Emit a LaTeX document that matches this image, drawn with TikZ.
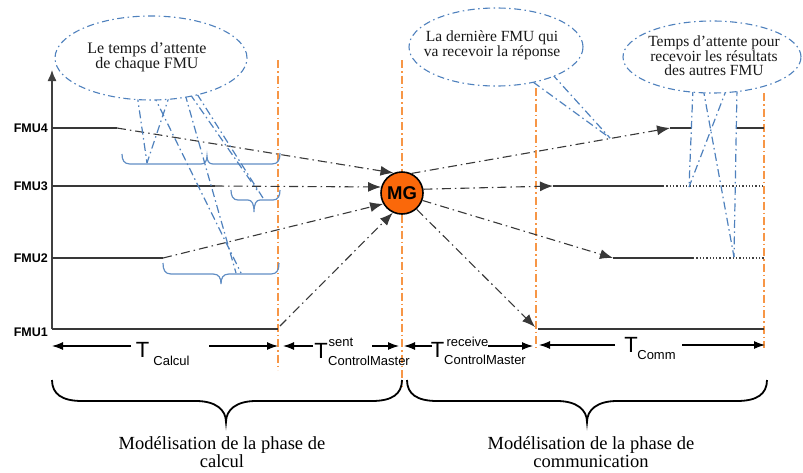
\documentclass[tikz,border=0pt]{standalone}
\usepackage{fontspec}
\setmainfont{Liberation Serif}
\setsansfont{Liberation Sans}
\usetikzlibrary{arrows.meta,shapes.geometric}
\definecolor{orng}{RGB}{247,150,70}
\definecolor{cblue}{RGB}{79,129,189}
\definecolor{mgor}{RGB}{250,104,10}
\begin{document}
\begin{tikzpicture}[x=1pt,y=-1pt,
  axisl/.style={draw=black!75, line width=1.3pt},
  tl/.style={draw=black!78, line width=1.2pt},
  flow/.style={draw=black!78, line width=1.1pt, dash pattern=on 9pt off 4pt on 1.5pt off 4pt, -{Latex[length=13pt,width=10pt]}},
  dotl/.style={draw=black!75, line width=1.1pt, dash pattern=on 1.3pt off 2pt},
  phaseline/.style={draw=orng, line width=1.5pt, dash pattern=on 8pt off 3pt on 1.5pt off 3pt},
  bubble/.style={ellipse, draw=cblue, fill=white, line width=1.1pt, dash pattern=on 7pt off 3.5pt on 1.5pt off 3.5pt, inner sep=0pt},
  bubtxt/.style={align=center, inner sep=0pt, text=black!90, font=\fontsize{15.5}{14}\selectfont},
  tailline/.style={draw=cblue, line width=1.2pt, dash pattern=on 8pt off 3.5pt on 1.5pt off 3.5pt},
  bracel/.style={draw=cblue!90, line width=1.2pt},
  bigbrace/.style={draw=black, line width=1.8pt},
  dimarr/.style={draw=black, line width=1.1pt, -{Latex[length=11pt,width=8pt]}},
  tbig/.style={font=\sffamily\fontsize{22}{24}\selectfont, inner sep=0pt},
  tsmall/.style={font=\sffamily\fontsize{13}{14}\selectfont, inner sep=0pt},
  fmul/.style={font=\sffamily\bfseries\fontsize{12.5}{14}\selectfont, anchor=east, inner sep=0pt},
  phasetxt/.style={font=\fontsize{18.5}{18.5}\selectfont, align=center, inner sep=0pt}
]
\useasboundingbox (0,0) rectangle (803,472);

% phase separators (orange)
\coordinate (o1t) at (278,60);  \coordinate (o1b) at (278,370);
\coordinate (o2t) at (402,60);  \coordinate (o2b) at (402,386);
\coordinate (o3t) at (536,88);  \coordinate (o3b) at (536,348);
\coordinate (o4t) at (764,93);  \coordinate (o4b) at (764,348);
\draw[phaseline] (o1t) -- (o1b);
\draw[phaseline] (o2t) -- (o2b);
\draw[phaseline] (o3t) -- (o3b);
\draw[phaseline] (o4t) -- (o4b);

% master node
\node[circle, draw=black, line width=1.6pt, fill=mgor, minimum size=42pt, inner sep=0pt,
      font=\sffamily\bfseries\fontsize{18.5}{18}\selectfont] (mg) at (402,193) {MG};

% axis and labels
\coordinate (a1) at (52,329);
\coordinate (a2) at (52,258);
\coordinate (a3) at (52,186);
\coordinate (a4) at (52,128);
\coordinate (atop) at (52,70);
\draw[axisl, -{Latex[length=11pt,width=9pt]}] (a1) -- (atop);
\node[fmul] (f4) at (48,128) {FMU4};
\node[fmul] (f3) at (48,186) {FMU3};
\node[fmul] (f2) at (48,258) {FMU2};
\node[fmul] (f1) at (48,332) {FMU1};

% computation phase lines
\coordinate (l4) at (117,128);
\coordinate (l3) at (215,186);
\coordinate (l2) at (163,258);
\coordinate (l1) at (278,329);
\coordinate (l1s) at (280,326);
\draw[tl] (a4) -- (l4);
\draw[tl] (a3) -- (l3);
\draw[tl] (a2) -- (l2);
\draw[tl] (a1) -- (l1);
\draw[flow] (l4) -- (mg.113);
\draw[flow] (l3) -- (mg.164);
\draw[flow] (l2) -- (mg.210);
\draw[flow] (l1s) -- (mg.245);

% communication phase lines
\coordinate (r4a) at (670,128); \coordinate (r4b) at (692,128);
\coordinate (r4c) at (737,128); \coordinate (r4d) at (764,128);
\coordinate (r3a) at (553,186); \coordinate (r3b) at (663,186); \coordinate (r3c) at (764,186);
\coordinate (r2a) at (613,258); \coordinate (r2b) at (693,258); \coordinate (r2c) at (764,258);
\coordinate (r1a) at (535,327); \coordinate (r1b) at (538,329); \coordinate (r1c) at (764,329);
\draw[flow] (mg.64) -- (r4a);
\draw[flow] (mg.10) -- (r3a);
\draw[flow] (mg.-20) -- (r2a);
\draw[flow] (mg.-48) -- (r1a);
\draw[tl] (r4a) -- (r4b);
\draw[tl] (r4c) -- (r4d);
\draw[tl] (r3a) -- (r3b);
\draw[dotl] (r3b) -- (r3c);
\draw[tl] (r2a) -- (r2b);
\draw[dotl] (r2b) -- (r2c);
\draw[tl] (r1b) -- (r1c);

% small blue braces
\draw[bracel] (122,154) .. controls (122,160) and (124,164) .. (130,164) -- (201,164)
  .. controls (205,164) and (207,161) .. (207,156) .. controls (207,161) and (209,164) .. (213,164)
  -- (272,164) .. controls (278,164) and (280,160) .. (280,153);
\draw[bracel] (231,190) .. controls (231,196) and (233,200) .. (238,200) -- (248,200)
  .. controls (252,200) and (254,204) .. (254,212) .. controls (254,204) and (256,200) .. (260,200)
  -- (273,200) .. controls (278,200) and (280,196) .. (280,190);
\draw[bracel] (163,263) .. controls (163,270) and (165,274) .. (171,274) -- (213,274)
  .. controls (219,274) and (221,278) .. (221,284) .. controls (221,278) and (223,274) .. (229,274)
  -- (271,274) .. controls (277,274) and (279,270) .. (279,263);

% callout tails
\coordinate (t4) at (147,163);
\coordinate (t3a) at (257,190); \coordinate (t3b) at (263,198);
\coordinate (t2a) at (241,273); \coordinate (t2b) at (236,273);
\draw[tailline] (137,94) -- (t4);
\draw[tailline] (170,94) -- (t4);
\draw[tailline] (153,94) -- (t2a);
\draw[tailline] (185,94) -- (t2b);
\draw[tailline] (190,94) -- (t3a);
\draw[tailline] (197,94) -- (t3b);
\coordinate (t5) at (610,138);
\draw[tailline] (533,82) -- (t5);
\draw[tailline] (552,74) -- (t5);
\coordinate (t6) at (689,187);
\coordinate (t7) at (734,257);
\draw[tailline] (693,88) -- (t6);
\draw[tailline] (727,88) -- (t6);
\draw[tailline] (703,88) -- (t7);
\draw[tailline] (737,88) -- (t7);

% callout bubbles
\node[bubble, minimum width=192pt, minimum height=84pt] (c1) at (151,58) {};
\node[bubtxt, font=\fontsize{16}{14}\selectfont] (c1t) at (147,57) {Le temps d’attente\\de chaque FMU};
\node[bubble, minimum width=174pt, minimum height=78pt] (c2) at (496,47) {};
\node[bubtxt] (c2t) at (492,45.5) {La dernière FMU qui\\va recevoir la réponse};
\node[bubble, minimum width=178pt, minimum height=72pt] (c3) at (712,57) {};
\node[bubtxt] (c3t) at (714,56) {Temps d’attente pour\\recevoir les résultats\\des autres FMU};

% durations
\coordinate (ca1) at (52,346);  \coordinate (ca2) at (131,346);
\coordinate (ca3) at (209,346); \coordinate (ca4) at (278,346);
\draw[dimarr] (ca2) -- (ca1);
\draw[dimarr] (ca3) -- (ca4);
\node[tbig] (tc) at (142.5,350) {T};
\node[tsmall] (tcs) at (171.5,361) {Calcul};

\coordinate (sa1) at (283,346); \coordinate (sa2) at (313,346);
\coordinate (sa3) at (372,346); \coordinate (sa4) at (399,346);
\draw[dimarr] (sa2) -- (sa1);
\draw[dimarr] (sa3) -- (sa4);
\node[tbig] (ts) at (321,350.5) {T};
\node[tsmall] (tss) at (341,342) {sent};
\node[tsmall] (tsb) at (369,361) {ControlMaster};

\coordinate (ra1) at (404,346); \coordinate (ra2) at (432,346);
\coordinate (ra3) at (488,346); \coordinate (ra4) at (533,346);
\draw[dimarr] (ra2) -- (ra1);
\draw[dimarr] (ra3) -- (ra4);
\node[tbig] (tr) at (437.5,350) {T};
\node[tsmall] (trs) at (467.5,342) {receive};
\node[tsmall] (trb) at (485,360) {ControlMaster};

\coordinate (ma1) at (539,345); \coordinate (ma2) at (615,345);
\coordinate (ma3) at (682,345); \coordinate (ma4) at (765,345);
\draw[dimarr] (ma2) -- (ma1);
\draw[dimarr] (ma3) -- (ma4);
\node[tbig] (tm) at (631,345) {T};
\node[tsmall] (tms) at (656.5,355) {Comm};

% phase braces
\draw[bigbrace] (52,380) .. controls (52,394) and (62,401) .. (82,401) -- (196,401)
  .. controls (216,401) and (226,410) .. (226,422) .. controls (226,410) and (236,401) .. (256,401)
  -- (372,401) .. controls (392,401) and (402,394) .. (402,380);
\draw[bigbrace] (407,380) .. controls (407,394) and (417,401) .. (437,401) -- (557,401)
  .. controls (577,401) and (587,410) .. (587,422) .. controls (587,410) and (597,401) .. (617,401)
  -- (737,401) .. controls (757,401) and (767,394) .. (767,380);
\node[phasetxt] (p1) at (222,452) {Modélisation de la phase de\\calcul};
\node[phasetxt] (p2) at (591,452) {Modélisation de la phase de\\communication};
\end{tikzpicture}
\end{document}
